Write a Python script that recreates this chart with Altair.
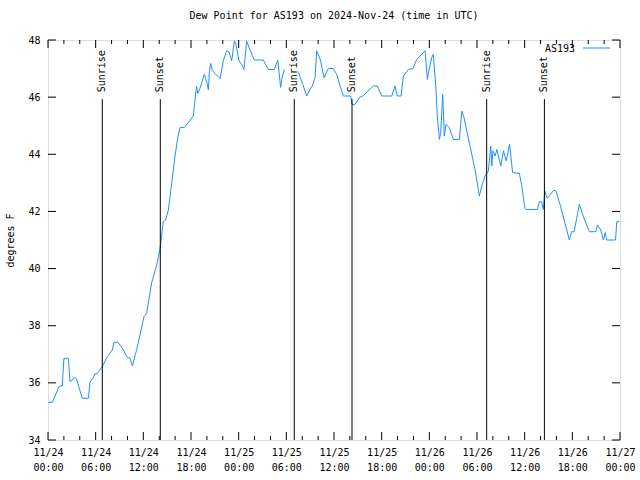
import altair as alt
import pandas as pd

# ---- data (UTC) ----
times = [
    "2024-11-24T00:00", "2024-11-24T00:33", "2024-11-24T01:23", "2024-11-24T01:48", "2024-11-24T02:00",
    "2024-11-24T02:34", "2024-11-24T02:46", "2024-11-24T03:22", "2024-11-24T03:34", "2024-11-24T04:19",
    "2024-11-24T05:05", "2024-11-24T05:17", "2024-11-24T05:43", "2024-11-24T05:53", "2024-11-24T06:12",
    "2024-11-24T06:50", "2024-11-24T07:28", "2024-11-24T08:06", "2024-11-24T08:18", "2024-11-24T08:49",
    "2024-11-24T09:22", "2024-11-24T09:59", "2024-11-24T10:19", "2024-11-24T10:37", "2024-11-24T11:10",
    "2024-11-24T11:40", "2024-11-24T12:05", "2024-11-24T12:25", "2024-11-24T13:03", "2024-11-24T13:39",
    "2024-11-24T13:54", "2024-11-24T14:12", "2024-11-24T14:30", "2024-11-24T14:48", "2024-11-24T15:09",
    "2024-11-24T15:34", "2024-11-24T15:59", "2024-11-24T16:19", "2024-11-24T16:37", "2024-11-24T17:10",
    "2024-11-24T17:45", "2024-11-24T18:18", "2024-11-24T18:35", "2024-11-24T18:43", "2024-11-24T18:50",
    "2024-11-24T19:08", "2024-11-24T19:28", "2024-11-24T19:41", "2024-11-24T19:59", "2024-11-24T20:11",
    "2024-11-24T20:19", "2024-11-24T20:29", "2024-11-24T20:41", "2024-11-24T21:39", "2024-11-24T22:04",
    "2024-11-24T22:29", "2024-11-24T22:47", "2024-11-24T23:07", "2024-11-24T23:28", "2024-11-24T23:40",
    "2024-11-25T00:02", "2024-11-25T00:23", "2024-11-25T00:40", "2024-11-25T01:00", "2024-11-25T01:18",
    "2024-11-25T01:58", "2024-11-25T03:06", "2024-11-25T03:44", "2024-11-25T04:29", "2024-11-25T04:55",
    "2024-11-25T05:05", "2024-11-25T05:17", "2024-11-25T05:25", "2024-11-25T05:45",
    "2024-11-25T07:30", "2024-11-25T08:34", "2024-11-25T08:59", "2024-11-25T09:16", "2024-11-25T09:37",
    "2024-11-25T09:49", "2024-11-25T10:18", "2024-11-25T10:44", "2024-11-25T11:17", "2024-11-25T11:55",
    "2024-11-25T12:20", "2024-11-25T12:46", "2024-11-25T13:11", "2024-11-25T14:06", "2024-11-25T14:16",
    "2024-11-25T14:34", "2024-11-25T15:17", "2024-11-25T15:37", "2024-11-25T16:57", "2024-11-25T17:27",
    "2024-11-25T18:00", "2024-11-25T19:16", "2024-11-25T19:41", "2024-11-25T19:58", "2024-11-25T20:26",
    "2024-11-25T20:44", "2024-11-25T21:22", "2024-11-25T21:55", "2024-11-25T22:25", "2024-11-25T23:02",
    "2024-11-25T23:28", "2024-11-25T23:45", "2024-11-25T23:54", "2024-11-26T00:18", "2024-11-26T00:30",
    "2024-11-26T00:43", "2024-11-26T00:50", "2024-11-26T01:00", "2024-11-26T01:16", "2024-11-26T01:26",
    "2024-11-26T01:41", "2024-11-26T01:53", "2024-11-26T02:06", "2024-11-26T02:31", "2024-11-26T03:02",
    "2024-11-26T03:47", "2024-11-26T04:05", "2024-11-26T04:22", "2024-11-26T05:07", "2024-11-26T05:45",
    "2024-11-26T06:18", "2024-11-26T06:36", "2024-11-26T07:01", "2024-11-26T07:26", "2024-11-26T07:44",
    "2024-11-26T07:52", "2024-11-26T08:00", "2024-11-26T08:17", "2024-11-26T08:30", "2024-11-26T09:00",
    "2024-11-26T09:20", "2024-11-26T09:41", "2024-11-26T10:06", "2024-11-26T10:29", "2024-11-26T11:20",
    "2024-11-26T11:37", "2024-11-26T12:02", "2024-11-26T12:08", "2024-11-26T13:36", "2024-11-26T13:51",
    "2024-11-26T14:08", "2024-11-26T14:21", "2024-11-26T14:32", "2024-11-26T14:41", "2024-11-26T14:52",
    "2024-11-26T15:12", "2024-11-26T15:37", "2024-11-26T15:55", "2024-11-26T16:28", "2024-11-26T17:05",
    "2024-11-26T17:38", "2024-11-26T17:55", "2024-11-26T18:13", "2024-11-26T18:28", "2024-11-26T18:53",
    "2024-11-26T19:23", "2024-11-26T20:09", "2024-11-26T20:57", "2024-11-26T21:10", "2024-11-26T21:35",
    "2024-11-26T21:55", "2024-11-26T22:08", "2024-11-26T22:20", "2024-11-26T23:26", "2024-11-26T23:36",
    "2024-11-26T23:56",
]
dew_point = [
    35.32, 35.32, 35.87, 35.90, 36.86,
    36.86, 36.04, 36.18, 36.16, 35.46,
    35.46, 36.02, 36.18, 36.31, 36.33,
    36.57, 36.92, 37.15, 37.42, 37.42,
    37.21, 36.89, 36.86, 36.59, 37.17,
    37.79, 38.32, 38.44, 39.50, 40.10,
    40.40, 40.88, 41.64, 41.70, 42.05,
    42.98, 43.92, 44.56, 44.94, 44.94,
    45.14, 45.34, 46.13, 46.37, 46.13,
    46.31, 46.60, 46.80, 46.54, 46.25,
    46.89, 47.18, 46.93, 46.65, 47.27,
    47.62, 47.58, 47.27, 47.97, 47.85,
    47.27, 47.15, 46.97, 47.97, 47.74,
    47.30, 47.30, 46.97, 46.97, 47.30,
    46.87, 46.34, 46.63, 46.97,
    46.90, 46.04, 46.27, 46.39, 46.68,
    47.62, 47.30, 46.68, 47.00, 47.00,
    46.80, 46.39, 46.04, 46.04, 45.75,
    45.73, 46.00, 46.04, 46.39, 46.39,
    46.04, 46.04, 46.39, 46.04, 46.04,
    46.74, 46.97, 47.00, 47.32, 47.50,
    47.62, 46.62, 46.87, 47.38, 47.50,
    46.74, 46.27, 45.34, 44.52, 44.76,
    46.10, 44.64, 45.05, 44.93, 44.52,
    44.52, 45.51, 45.28, 44.29, 43.47,
    42.54, 42.89, 43.24, 43.42, 44.29,
    43.59, 44.12, 43.94, 44.17, 43.59,
    44.12, 43.77, 44.35, 43.36, 43.33,
    42.93, 42.11, 42.07, 42.07, 42.34,
    42.34, 42.07, 42.73, 42.58, 42.46,
    42.58, 42.73, 42.73, 42.23, 41.58,
    41.00, 41.29, 41.29, 41.64, 42.25,
    41.82, 41.29, 41.29, 41.52, 41.35,
    41.00, 41.26, 41.00, 41.00, 41.64,
    41.64,
]
# the trace is broken here (no readings between these two times)
gap_start, gap_end = "2024-11-25T05:45", "2024-11-25T07:30"

sun_times = ["2024-11-24T06:50", "2024-11-24T14:08", "2024-11-25T07:00",
             "2024-11-25T14:16", "2024-11-26T07:13", "2024-11-26T14:29"]
sun_events = ["Sunrise", "Sunset", "Sunrise", "Sunset", "Sunrise", "Sunset"]

y_ticks = [34, 36, 38, 40, 42, 44, 46, 48]
station = "AS193"

# ---- tables ----
df = pd.DataFrame({"time": [t + ":00Z" for t in times], "dew": dew_point})
df["seg"] = [0 if t <= gap_start else 1 for t in times]

sun = pd.DataFrame({"time": [t + ":00Z" for t in sun_times], "event": sun_events})

major = pd.date_range("2024-11-24 00:00", "2024-11-27 00:00", freq="6h")
allt = pd.date_range("2024-11-24 00:00", "2024-11-27 00:00", freq="2h")
minor = [t for t in allt if t not in set(major)]
major_df = pd.DataFrame({"time": [t.strftime("%Y-%m-%dT%H:%M:00Z") for t in major]})
minor_df = pd.DataFrame({"time": [t.strftime("%Y-%m-%dT%H:%M:00Z") for t in minor]})
ytick_df = pd.DataFrame({"dew": y_ticks})
legend_df = pd.DataFrame({"name": [station]})

FONT = "DejaVu Sans Mono"
FS = 10
W, H = 572, 400
LINE_COLOR = "#1e90ff"

x_scale = alt.Scale(
    type="utc",
    domain=[alt.DateTime(year=2024, month=11, date=24, hours=0, utc=True),
            alt.DateTime(year=2024, month=11, date=27, hours=0, utc=True)],
    nice=False,
)
y_scale = alt.Scale(domain=[34, 48], nice=False, zero=False)

x_axis = alt.Axis(
    values=[alt.DateTime(year=t.year, month=t.month, date=t.day, hours=t.hour, utc=True) for t in major],
    labelExpr="[utcFormat(datum.value, '%m/%d'), utcFormat(datum.value, '%H:%M')]",
    ticks=False, grid=False, domain=False, labelPadding=7, labelLineHeight=15,
    labelOverlap=False, labelFlush=False, labelBound=False, title=None,
    labelFont=FONT, labelFontSize=FS, labelColor="black",
)
y_axis = alt.Axis(
    values=y_ticks, ticks=False, grid=False, domain=False, labelPadding=8,
    title="degrees F", titlePadding=12, titleFont=FONT, titleFontSize=FS,
    titleFontWeight="normal", titleColor="black",
    labelFont=FONT, labelFontSize=FS, labelColor="black",
)

X = alt.X("time:T", scale=x_scale, axis=x_axis)
Y = alt.Y("dew:Q", scale=y_scale, axis=y_axis)

line = alt.Chart(df).mark_line(strokeWidth=1, interpolate="linear", color=LINE_COLOR).encode(
    x=X, y=Y, detail="seg:N", order="time:T",
)

# key in the top right corner, label left of the line sample (gnuplot style)
key_text = alt.Chart(legend_df).mark_text(
    align="right", baseline="middle", font=FONT, fontSize=FS, color="black"
).encode(text="name:N", x=alt.value(527), y=alt.value(9))
key_line = alt.Chart(legend_df).mark_rule(color=LINE_COLOR, strokeWidth=1).encode(
    x=alt.value(535), x2=alt.value(562), y=alt.value(8))

sun_rules = alt.Chart(sun).mark_rule(color="black", strokeWidth=1).encode(
    x=X, y=alt.datum(34, scale=y_scale, axis=y_axis), y2=alt.datum(45.93)
)
sun_text = alt.Chart(sun).mark_text(
    angle=270, align="left", baseline="middle", font=FONT, fontSize=FS, color="black"
).encode(x=X, y=alt.datum(46.17, scale=y_scale, axis=y_axis), text="event:N")

tick_style = dict(color="black", strokeWidth=1)
maj_b = alt.Chart(major_df).mark_rule(**tick_style).encode(x=X, y=alt.value(H), y2=alt.value(H - 8))
maj_t = alt.Chart(major_df).mark_rule(**tick_style).encode(x=X, y=alt.value(0), y2=alt.value(8))
min_b = alt.Chart(minor_df).mark_rule(**tick_style).encode(x=X, y=alt.value(H), y2=alt.value(H - 4))
min_t = alt.Chart(minor_df).mark_rule(**tick_style).encode(x=X, y=alt.value(0), y2=alt.value(4))
yt_l = alt.Chart(ytick_df).mark_rule(**tick_style).encode(y=Y, x=alt.value(0), x2=alt.value(8))
yt_r = alt.Chart(ytick_df).mark_rule(**tick_style).encode(y=Y, x=alt.value(W), x2=alt.value(W - 8))

chart = alt.layer(
    line, maj_b, maj_t, min_b, min_t, yt_l, yt_r, sun_rules, sun_text, key_text, key_line
).properties(
    width=W, height=H,
    title=alt.TitleParams(
        "Dew Point for AS193 on 2024-Nov-24 (time in UTC)",
        font=FONT, fontSize=FS, fontWeight="normal", color="black",
        anchor="middle", offset=14,
    ),
    autosize=alt.AutoSizeParams(type="none"),
    padding={"left": 48, "top": 40, "right": 20, "bottom": 40},
).configure_view(
    stroke="black", strokeWidth=1
).configure(background="white")

chart.save("out.html", embed_options={"renderer": "svg", "actions": False})
